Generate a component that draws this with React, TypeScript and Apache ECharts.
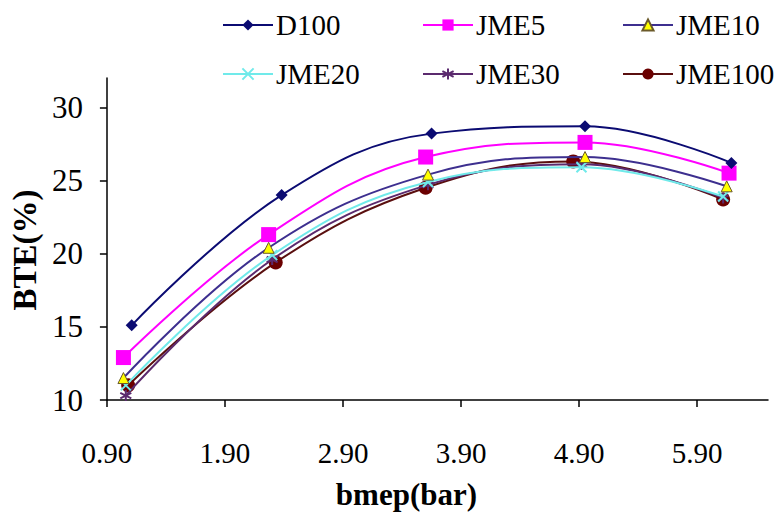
import React, { useEffect, useRef } from "react";
import * as echarts from "echarts";

const seriesNames = ["D100", "JME5", "JME10", "JME20", "JME30", "JME100"];

const xD100 = [1.11, 2.38, 3.65, 4.95, 6.19];
const yD100 = [15.1, 24.0, 28.2, 28.7, 26.2];
const xJME5 = [1.04, 2.27, 3.6, 4.95, 6.17];
const yJME5 = [12.9, 21.3, 26.6, 27.6, 25.5];
const xJME10 = [1.04, 2.27, 3.62, 4.95, 6.15];
const yJME10 = [11.5, 20.4, 25.4, 26.6, 24.6];
const xJME20 = [1.06, 2.3, 3.62, 4.92, 6.12];
const yJME20 = [11.0, 19.9, 24.9, 25.9, 23.9];
const xJME30 = [1.06, 2.3, 3.62, 4.92, 6.12];
const yJME30 = [10.3, 19.6, 24.7, 26.1, 23.8];
const xJME100 = [1.08, 2.33, 3.6, 4.85, 6.12];
const yJME100 = [11.0, 19.4, 24.5, 26.3, 23.7];

const xTicks = [0.9, 1.9, 2.9, 3.9, 4.9, 5.9];
const yTicks = [10, 15, 20, 25, 30];

const xs = [xD100, xJME5, xJME10, xJME20, xJME30, xJME100];
const ys = [yD100, yJME5, yJME10, yJME20, yJME30, yJME100];

const FONT = "Liberation Serif";

const lineColors = ["#0b0b72", "#ff00ff", "#3d2f8f", "#70eaea", "#5b2a6e", "#5a0f0f"];
const symbols = [
  "diamond",
  "rect",
  "triangle",
  "path://M0,0L10,10M10,0L0,10",
  "path://M5,0L5,10M0,2.5L10,7.5M0,7.5L10,2.5",
  "circle",
];
const symbolSizes = [12, 15, 11, 10, 11, 14];
const markerFill = ["#0b0b72", "#ff00ff", "#ffff00", "#70eaea", "#5b2a6e", "#6b0000"];
const markerBorder = ["#0b0b72", "#ff00ff", "#6b5a2a", "#70eaea", "#5b2a6e", "#6b0000"];
const markerBorderWidth = [0, 0, 1, 2, 2, 0];

// legend layout: icon left x, row centre y
const legendX = [222, 422, 622, 222, 422, 622];
const legendY = [25, 25, 25, 74, 74, 74];
const ICON_W = 50;
const ICON_H = 14;

export default function App() {
  const ref = useRef<HTMLDivElement>(null);
  useEffect(() => {
    if (!ref.current) return;
    const chart = echarts.init(ref.current, null, { renderer: "svg" });
    const series = seriesNames.map((name, i) => ({
      name,
      type: "line",
      smooth: 0.4,
      data: xs[i].map((x, j) => [x, ys[i][j]]),
      symbol: symbols[i],
      symbolSize: symbolSizes[i],
      lineStyle: { color: lineColors[i], width: 2 },
      itemStyle: {
        color: markerFill[i],
        borderColor: markerBorder[i],
        borderWidth: markerBorderWidth[i],
      },
      z: 2 + (5 - i),
    }));
    const legend = seriesNames.map((name, i) => ({
      data: [name],
      left: legendX[i],
      top: legendY[i] - ICON_H / 2,
      padding: 0,
      itemWidth: ICON_W,
      itemHeight: ICON_H,
      itemGap: 0,
      formatter: () => "",
      textStyle: { fontSize: 1, padding: 0 },
    }));
    const legendTexts = seriesNames.map((name, i) => ({
      type: "text",
      x: legendX[i] + ICON_W + 4,
      y: legendY[i],
      silent: true,
      style: {
        text: name,
        fontFamily: FONT,
        fontSize: 29,
        fill: "#000",
        verticalAlign: "middle",
        align: "left",
      },
    }));
    chart.setOption({
      animation: false,
      backgroundColor: "#ffffff",
      textStyle: { fontFamily: FONT },
      legend,
      graphic: legendTexts,
      grid: { left: 102, right: 9, top: 78, bottom: 116, containLabel: false },
      xAxis: {
        type: "value",
        min: 0.9,
        max: 6.5,
        name: "bmep(bar)",
        nameLocation: "middle",
        nameGap: 79,
        nameTextStyle: {
          fontFamily: FONT,
          fontSize: 31,
          fontWeight: "bold",
          color: "#000",
          padding: [0, 62, 0, 0],
        },
        axisLine: { lineStyle: { color: "#000", width: 1.5 } },
        axisTick: { show: true, customValues: xTicks, length: 7, lineStyle: { color: "#000", width: 1.5 } },
        axisLabel: {
          customValues: xTicks,
          formatter: (v: number) => v.toFixed(2),
          fontFamily: FONT,
          fontSize: 29,
          color: "#000",
          margin: 38,
        },
        splitLine: { show: false },
      },
      yAxis: {
        type: "value",
        min: 10,
        max: 32,
        name: "BTE(%)",
        nameLocation: "middle",
        nameGap: 56,
        nameRotate: 90,
        nameTextStyle: {
          fontFamily: FONT,
          fontSize: 33,
          fontWeight: "bold",
          color: "#000",
          padding: [0, 22, 0, 0],
        },
        axisLine: { show: true, lineStyle: { color: "#000", width: 1.5 } },
        axisTick: { show: true, customValues: yTicks, length: 7, lineStyle: { color: "#000", width: 1.5 } },
        axisLabel: {
          customValues: yTicks,
          fontFamily: FONT,
          fontSize: 31,
          color: "#000",
          margin: 24,
        },
        splitLine: { show: false },
      },
      series,
    });
    return () => chart.dispose();
  }, []);
  return (
    <div
      ref={ref}
      style={{ position: "fixed", left: 0, top: 0, width: 777, height: 516 }}
    />
  );
}
